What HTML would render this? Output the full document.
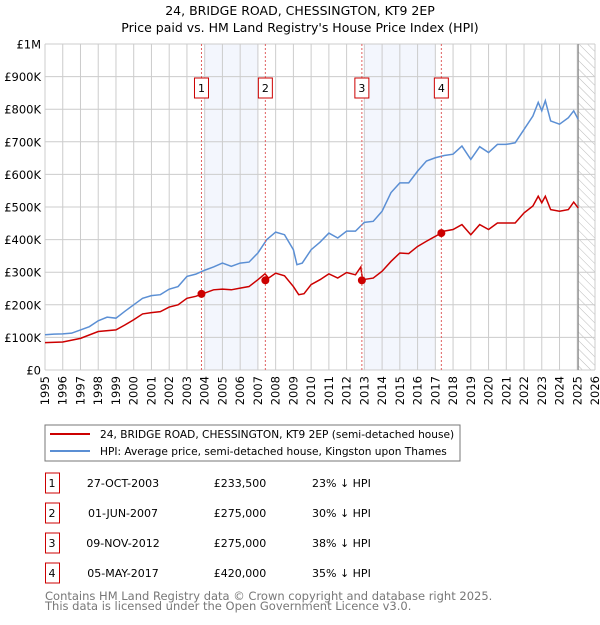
<!DOCTYPE html>
<html><head><meta charset="utf-8"><style>
body{margin:0;background:#fff}
svg text{font-family:"DejaVu Sans","Liberation Sans",sans-serif}
</style></head><body>
<svg id="c" width="600" height="620" viewBox="0 0 600 620">
<text x="300" y="15" text-anchor="middle" font-size="12.5">24, BRIDGE ROAD, CHESSINGTON, KT9 2EP</text>
<text x="300" y="32" text-anchor="middle" font-size="12.5">Price paid vs. HM Land Registry's House Price Index (HPI)</text>
<defs><pattern id="hatch" width="6" height="6" patternUnits="userSpaceOnUse" patternTransform="rotate(-45)"><line x1="0" y1="0" x2="0" y2="6" stroke="#bbb" stroke-width="1"/></pattern></defs>
<g id="plot"></g>
<rect x="45" y="425" width="415" height="36" fill="#fff" stroke="#777"/>
<line x1="50" y1="434" x2="90" y2="434" stroke="#cc0000" stroke-width="2"/>
<text x="100" y="438" font-size="10.6">24, BRIDGE ROAD, CHESSINGTON, KT9 2EP (semi-detached house)</text>
<line x1="50" y1="451" x2="90" y2="451" stroke="#5b8fd4" stroke-width="2"/>
<text x="100" y="455" font-size="10.6">HPI: Average price, semi-detached house, Kingston upon Thames</text>
<g id="table"></g>
<text x="45" y="600" font-size="11.5" fill="#777">Contains HM Land Registry data © Crown copyright and database right 2025.</text>
<text x="45" y="610" font-size="11.5" fill="#777">This data is licensed under the Open Government Licence v3.0.</text>
</svg>
<script>
const hpiYears=[1995,1995.5,1996,1996.5,1997,1997.5,1998,1998.5,1999,1999.5,2000,2000.5,2001,2001.5,2002,2002.5,2003,2003.5,2004,2004.5,2005,2005.5,2006,2006.5,2007,2007.5,2008,2008.5,2009,2009.2,2009.5,2010,2010.5,2011,2011.5,2012,2012.5,2013,2013.5,2014,2014.5,2015,2015.5,2016,2016.5,2017,2017.5,2018,2018.5,2019,2019.5,2020,2020.5,2021,2021.5,2022,2022.5,2022.8,2023,2023.2,2023.5,2024,2024.5,2024.8,2025.05];
const hpiValues=[108,110,111,113,123,133,151,162,159,180,200,220,228,231,248,256,287,294,306,316,328,318,328,331,359,400,423,415,369,323,328,369,392,420,405,426,426,453,456,487,544,574,574,610,641,651,658,662,687,646,685,667,692,692,697,738,779,821,795,826,764,754,774,795,769];
const priceYears=[1995,1996,1997,1998,1999,1999.5,2000,2000.5,2001,2001.5,2002,2002.5,2003,2003.5,2004,2004.5,2005,2005.5,2006,2006.5,2007,2007.4,2007.6,2008,2008.5,2009,2009.3,2009.6,2010,2010.5,2011,2011.5,2012,2012.5,2012.8,2012.9,2013.5,2014,2014.5,2015,2015.5,2016,2016.5,2017,2017.5,2018,2018.5,2019,2019.5,2020,2020.5,2021,2021.5,2022,2022.5,2022.8,2023,2023.2,2023.5,2024,2024.5,2024.8,2025.05];
const priceValues=[84,86,97,118,123,138,154,172,176,179,193,200,220,226,236,246,248,246,251,256,277,295,282,297,289,256,231,234,262,277,295,282,299,292,316,277,282,303,333,359,357,379,395,410,426,431,446,415,446,431,451,451,451,482,503,533,513,533,492,487,492,515,497];
const saleLabels=["1","2","3","4"];
const saleYears=[2003.82,2007.42,2012.86,2017.34];
const salePrices=[233.5,275,275,420];
const saleDates=["27-OCT-2003","01-JUN-2007","09-NOV-2012","05-MAY-2017"];
const salePriceText=["£233,500","£275,000","£275,000","£420,000"];
const saleHpiText=["23% ↓ HPI","30% ↓ HPI","38% ↓ HPI","35% ↓ HPI"];
const shadeRanges=[[2004,2007],[2013,2017]];
const yTicks=[0,100,200,300,400,500,600,700,800,900,1000];
const yTickLabels=["£0","£100K","£200K","£300K","£400K","£500K","£600K","£700K","£800K","£900K","£1M"];

const X0=45,X1=595,Y0=370,Y1=44,YR0=1995,YR1=2026;
const xs=y=>X0+(y-YR0)/(YR1-YR0)*(X1-X0);
const ys=v=>Y0-v/1000*(Y0-Y1);
const NS="http://www.w3.org/2000/svg";
const plot=document.getElementById('plot');
function mk(tag,attrs,parent){const e=document.createElementNS(NS,tag);for(const k in attrs)e.setAttribute(k,attrs[k]);(parent||plot).appendChild(e);return e;}

shadeRanges.forEach(r=>{const e=mk('rect',{x:xs(r[0]),y:Y1,width:xs(r[1])-xs(r[0]),height:Y0-Y1,fill:'#f3f6fd'});

});
const hx=xs(2025.05);
const hr=mk('rect',{x:hx,y:Y1,width:X1-hx,height:Y0-Y1,fill:'url(#hatch)'});


for(let y=YR0;y<=YR1;y++){const l=mk('line',{x1:xs(y),x2:xs(y),y1:Y1,y2:Y0,stroke:'#ccc','stroke-width':1});


const t=mk('text',{x:0,y:0,'font-size':11.5,'text-anchor':'end',transform:`translate(${xs(y)+4},${Y0+6}) rotate(-90)`});
t.textContent=y;

}
yTicks.forEach((v,i)=>{const l=mk('line',{x1:X0,x2:X1,y1:ys(v),y2:ys(v),stroke:'#ccc','stroke-width':1});


const t=mk('text',{x:X0-4,y:ys(v)+4.5,'font-size':11.5,'text-anchor':'end'});
t.textContent=yTickLabels[i];

});
const vl=mk('line',{x1:hx,x2:hx,y1:Y1,y2:Y0,stroke:'#888','stroke-width':1.2});



const hp=mk('polyline',{points:hpiYears.map((y,i)=>xs(y)+','+ys(hpiValues[i])).join(' '),fill:'none',stroke:'#5b8fd4','stroke-width':1.5});


const pp=mk('polyline',{points:priceYears.map((y,i)=>xs(y)+','+ys(priceValues[i])).join(' '),fill:'none',stroke:'#cc0000','stroke-width':1.5});



saleYears.forEach((y,i)=>{const x=xs(y);
const l=mk('line',{x1:x,x2:x,y1:Y1,y2:Y0,stroke:'#e06060','stroke-dasharray':'2,2','stroke-width':1});


const b=mk('rect',{x:x-7,y:78,width:14,height:20,fill:'#fff',stroke:'#cc0000'});


const t=mk('text',{x:x,y:92,'font-size':11,'text-anchor':'middle'});
t.textContent=saleLabels[i];


const d=mk('circle',{cx:x,cy:ys(salePrices[i]),r:4,fill:'#cc0000'});

});

const tb=document.getElementById('table');
saleLabels.forEach((s,i)=>{const cy=483+i*30;
const b=mk('rect',{x:45.5,y:cy-10,width:14,height:20,fill:'#fff',stroke:'#cc0000'},tb);


const cols=[[52,s,'middle','table-sale-number'],[123,saleDates[i],'middle','table-sale-date'],[240,salePriceText[i],'middle','table-sale-price'],[312,saleHpiText[i],'start','table-sale-hpi']];
cols.forEach(c=>{const t=mk('text',{x:c[0],y:cy+4,'font-size':11,'text-anchor':c[2]},tb);
t.textContent=c[1];

});});
</script>
</body></html>
